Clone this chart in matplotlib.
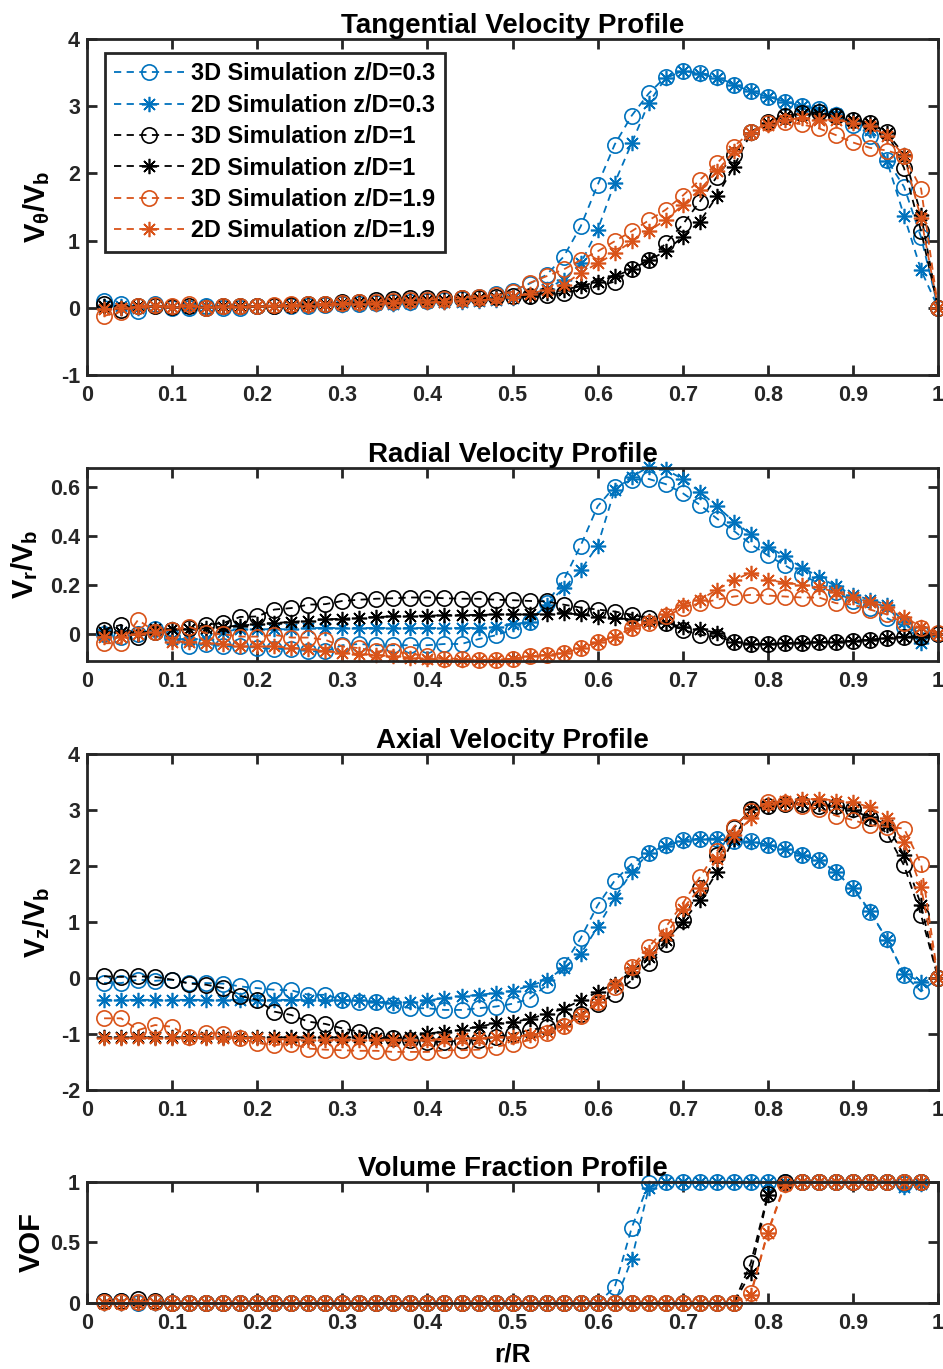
import numpy as np
import matplotlib.pyplot as plt

plt.rcParams['font.family'] = ['Liberation Sans', 'DejaVu Sans']
plt.rcParams['font.weight'] = 'bold'
plt.rcParams['mathtext.fontset'] = 'custom'
plt.rcParams['mathtext.rm'] = 'Liberation Sans:bold'
plt.rcParams['mathtext.it'] = 'Liberation Sans:bold'
plt.rcParams['mathtext.bf'] = 'Liberation Sans:bold'

# radial positions r/R
r = [0.02, 0.04, 0.06, 0.08, 0.10, 0.12, 0.14, 0.16, 0.18, 0.20,
     0.22, 0.24, 0.26, 0.28, 0.30, 0.32, 0.34, 0.36, 0.38, 0.40,
     0.42, 0.44, 0.46, 0.48, 0.50, 0.52, 0.54, 0.56, 0.58, 0.60,
     0.62, 0.64, 0.66, 0.68, 0.70, 0.72, 0.74, 0.76, 0.78, 0.80,
     0.82, 0.84, 0.86, 0.88, 0.90, 0.92, 0.94, 0.96, 0.98, 1.00]
r_vof = r[:-1]

labels = ["3D Simulation z/D=0.3", "2D Simulation z/D=0.3",
          "3D Simulation z/D=1", "2D Simulation z/D=1",
          "3D Simulation z/D=1.9", "2D Simulation z/D=1.9"]

# --- tangential velocity V_theta/V_b ---
tan_3d_03 = [0.10, 0.06, -0.05, 0.06, 0.00, -0.01, 0.02, 0.00, 0.00, 0.02, 0.02, 0.03, 0.03, 0.04, 0.05, 0.06, 0.07, 0.08, 0.09, 0.10, 0.11, 0.13, 0.16, 0.20,
             0.25, 0.36, 0.49, 0.76, 1.21, 1.83, 2.43, 2.86, 3.19, 3.44, 3.52, 3.50, 3.44, 3.32, 3.22, 3.14, 3.07, 3.00, 2.96, 2.87, 2.72, 2.55, 2.20, 1.80, 1.05, 0.00]
tan_2d_03 = [0.02, 0.03, 0.00, 0.03, 0.01, 0.00, 0.02, 0.01, 0.01, 0.02, 0.02, 0.02, 0.03, 0.04, 0.04, 0.05, 0.06, 0.06, 0.07, 0.08, 0.08, 0.09, 0.10, 0.12,
             0.14, 0.18, 0.28, 0.42, 0.66, 1.16, 1.86, 2.45, 3.05, 3.42, 3.52, 3.48, 3.42, 3.32, 3.22, 3.14, 3.07, 3.00, 2.95, 2.88, 2.80, 2.65, 2.18, 1.37, 0.56, 0.00]
tan_3d_1 = [0.05, -0.04, 0.02, 0.03, 0.01, 0.02, 0.00, 0.02, 0.03, 0.02, 0.03, 0.04, 0.05, 0.06, 0.08, 0.09, 0.11, 0.13, 0.14, 0.15, 0.15, 0.15, 0.15, 0.16,
            0.17, 0.18, 0.19, 0.22, 0.27, 0.32, 0.39, 0.57, 0.71, 0.96, 1.24, 1.58, 1.95, 2.28, 2.62, 2.77, 2.86, 2.90, 2.91, 2.86, 2.80, 2.75, 2.62, 2.08, 1.14, 0.00]
tan_2d_1 = [0.03, 0.00, 0.02, 0.02, 0.01, 0.02, 0.01, 0.02, 0.02, 0.02, 0.03, 0.04, 0.05, 0.06, 0.07, 0.08, 0.09, 0.10, 0.11, 0.12, 0.12, 0.13, 0.14, 0.15,
            0.16, 0.18, 0.22, 0.27, 0.32, 0.39, 0.47, 0.57, 0.71, 0.84, 1.06, 1.28, 1.66, 2.10, 2.60, 2.75, 2.85, 2.88, 2.88, 2.85, 2.80, 2.75, 2.60, 2.28, 1.38, 0.00]
tan_3d_19 = [-0.12, -0.06, 0.03, 0.04, 0.02, 0.05, 0.00, 0.03, 0.02, 0.02, 0.04, 0.05, 0.05, 0.06, 0.07, 0.08, 0.09, 0.10, 0.11, 0.12, 0.13, 0.14, 0.16, 0.19,
             0.24, 0.37, 0.47, 0.57, 0.71, 0.84, 0.99, 1.14, 1.30, 1.46, 1.67, 1.90, 2.15, 2.40, 2.62, 2.75, 2.77, 2.73, 2.67, 2.57, 2.46, 2.38, 2.34, 2.26, 1.77, 0.00]
tan_2d_19 = [-0.02, -0.01, 0.01, 0.02, 0.01, 0.02, 0.01, 0.01, 0.01, 0.02, 0.02, 0.03, 0.03, 0.04, 0.05, 0.05, 0.06, 0.07, 0.08, 0.08, 0.09, 0.10, 0.11, 0.13,
             0.16, 0.21, 0.27, 0.34, 0.52, 0.66, 0.81, 0.99, 1.14, 1.31, 1.53, 1.76, 2.03, 2.33, 2.60, 2.72, 2.80, 2.82, 2.80, 2.80, 2.75, 2.70, 2.56, 2.26, 1.33, 0.00]

# --- radial velocity V_r/V_b ---
rad_3d_03 = [0.00, -0.01, 0.00, 0.02, -0.01, -0.05, -0.04, -0.05, -0.05, -0.055, -0.06, -0.06, -0.07, -0.07, -0.045, -0.04, -0.045, -0.045, -0.045, -0.045, -0.04, -0.04, -0.02, -0.005,
             0.018, 0.05, 0.126, 0.22, 0.36, 0.52, 0.60, 0.627, 0.631, 0.61, 0.573, 0.526, 0.47, 0.42, 0.366, 0.32, 0.28, 0.24, 0.207, 0.173, 0.133, 0.106, 0.065, 0.03, 0.004, 0.00]
rad_2d_03 = [0.00, 0.01, 0.00, 0.01, -0.02, -0.02, -0.02, 0.01, 0.02, 0.02, 0.02, 0.02, 0.025, 0.025, 0.025, 0.025, 0.025, 0.025, 0.025, 0.025, 0.025, 0.025, 0.025, 0.03,
             0.04, 0.05, 0.12, 0.187, 0.26, 0.36, 0.587, 0.64, 0.68, 0.67, 0.63, 0.58, 0.52, 0.458, 0.406, 0.356, 0.316, 0.27, 0.234, 0.194, 0.16, 0.14, 0.12, 0.05, -0.037, 0.00]
rad_3d_1 = [0.018, 0.038, -0.01, 0.01, 0.018, 0.024, 0.038, 0.045, 0.07, 0.072, 0.10, 0.106, 0.12, 0.122, 0.135, 0.14, 0.144, 0.146, 0.149, 0.149, 0.146, 0.144, 0.144, 0.14,
            0.138, 0.135, 0.133, 0.12, 0.108, 0.10, 0.092, 0.079, 0.065, 0.045, 0.018, -0.003, -0.01, -0.03, -0.04, -0.04, -0.037, -0.034, -0.033, -0.03, -0.027, -0.023, -0.016, -0.01, -0.01, 0.00]
rad_2d_1 = [0.01, 0.01, 0.00, 0.02, 0.02, 0.02, 0.025, 0.03, 0.035, 0.04, 0.045, 0.05, 0.055, 0.06, 0.063, 0.066, 0.07, 0.072, 0.075, 0.075, 0.077, 0.078, 0.078, 0.08,
            0.08, 0.08, 0.083, 0.085, 0.08, 0.07, 0.065, 0.06, 0.055, 0.045, 0.03, 0.02, 0.005, -0.03, -0.04, -0.04, -0.037, -0.034, -0.033, -0.03, -0.027, -0.023, -0.016, -0.01, -0.01, 0.00]
rad_3d_19 = [-0.037, -0.037, 0.058, 0.01, 0.018, 0.03, 0.004, 0.00, -0.01, -0.01, -0.003, -0.014, -0.014, -0.023, -0.05, -0.057, -0.07, -0.07, -0.08, -0.09, -0.10, -0.10, -0.104, -0.104,
             -0.10, -0.09, -0.084, -0.077, -0.057, -0.033, -0.01, 0.024, 0.045, 0.072, 0.106, 0.126, 0.14, 0.153, 0.16, 0.157, 0.153, 0.149, 0.149, 0.126, 0.12, 0.10, 0.08, 0.045, 0.027, 0.004]
rad_2d_19 = [-0.01, -0.01, 0.00, 0.01, -0.03, -0.03, -0.035, -0.04, -0.05, -0.05, -0.05, -0.055, -0.06, -0.07, -0.075, -0.08, -0.085, -0.09, -0.095, -0.10, -0.104, -0.104, -0.104, -0.104,
             -0.10, -0.09, -0.084, -0.077, -0.057, -0.033, -0.01, 0.024, 0.05, 0.08, 0.12, 0.14, 0.18, 0.22, 0.25, 0.22, 0.21, 0.20, 0.19, 0.17, 0.15, 0.13, 0.11, 0.07, 0.03, 0.00]

# --- axial velocity V_z/V_b ---
ax_3d_03 = [-0.09, -0.09, -0.03, -0.05, -0.03, -0.09, -0.09, -0.10, -0.15, -0.18, -0.21, -0.22, -0.30, -0.30, -0.39, -0.42, -0.42, -0.48, -0.54, -0.54, -0.57, -0.57, -0.54, -0.51,
            -0.46, -0.37, -0.13, 0.23, 0.71, 1.30, 1.74, 2.04, 2.24, 2.37, 2.46, 2.49, 2.49, 2.44, 2.44, 2.38, 2.30, 2.20, 2.10, 1.89, 1.60, 1.18, 0.69, 0.06, -0.24, 0.00]
ax_2d_03 = [-0.39, -0.39, -0.39, -0.39, -0.39, -0.39, -0.39, -0.39, -0.39, -0.39, -0.39, -0.39, -0.39, -0.40, -0.40, -0.40, -0.42, -0.44, -0.42, -0.40, -0.36, -0.33, -0.30, -0.27,
            -0.23, -0.14, -0.04, 0.18, 0.43, 0.91, 1.43, 1.89, 2.24, 2.36, 2.45, 2.48, 2.48, 2.44, 2.43, 2.38, 2.30, 2.20, 2.10, 1.90, 1.60, 1.20, 0.68, 0.08, -0.07, 0.00]
ax_3d_1 = [0.03, 0.02, 0.03, 0.02, -0.03, -0.10, -0.12, -0.18, -0.32, -0.39, -0.60, -0.66, -0.78, -0.82, -0.90, -0.96, -1.02, -1.08, -1.11, -1.14, -1.14, -1.12, -1.11, -1.05,
           -1.00, -0.93, -0.88, -0.73, -0.64, -0.46, -0.28, -0.04, 0.26, 0.61, 1.03, 1.60, 2.19, 2.68, 3.01, 3.08, 3.11, 3.11, 3.08, 3.08, 3.01, 2.85, 2.58, 2.01, 1.12, 0.00]
ax_2d_1 = [-1.06, -1.06, -1.06, -1.06, -1.06, -1.06, -1.06, -1.06, -1.06, -1.06, -1.06, -1.06, -1.06, -1.06, -1.06, -1.06, -1.07, -1.08, -1.05, -0.99, -0.96, -0.92, -0.87, -0.81,
           -0.79, -0.73, -0.64, -0.55, -0.40, -0.25, -0.10, 0.11, 0.37, 0.67, 1.00, 1.39, 1.89, 2.49, 3.02, 3.08, 3.12, 3.12, 3.10, 3.07, 3.00, 2.88, 2.73, 2.19, 1.30, 0.00]
ax_3d_19 = [-0.72, -0.72, -0.93, -0.84, -0.87, -1.05, -0.98, -1.00, -1.08, -1.16, -1.20, -1.17, -1.26, -1.28, -1.29, -1.30, -1.30, -1.32, -1.32, -1.32, -1.29, -1.29, -1.28, -1.23,
            -1.17, -1.11, -0.99, -0.85, -0.67, -0.43, -0.16, 0.20, 0.55, 0.91, 1.33, 1.80, 2.26, 2.70, 2.99, 3.14, 3.13, 3.08, 3.02, 2.90, 2.82, 2.73, 2.70, 2.67, 2.04, 0.00]
ax_2d_19 = [-1.07, -1.07, -1.07, -1.07, -1.07, -1.07, -1.07, -1.07, -1.07, -1.07, -1.09, -1.10, -1.10, -1.10, -1.10, -1.10, -1.10, -1.10, -1.10, -1.10, -1.09, -1.08, -1.07, -1.06,
            -1.05, -1.02, -0.96, -0.85, -0.67, -0.43, -0.13, 0.17, 0.46, 0.76, 1.24, 1.60, 2.13, 2.55, 2.85, 3.11, 3.17, 3.19, 3.20, 3.17, 3.14, 3.05, 2.85, 2.43, 1.63, 0.00]

# --- volume fraction (0.02 .. 0.98) ---
vof_3d_03 = [0.02, 0.02, 0.00, 0.01, 0.00, 0.00, 0.00, 0.00, 0.00, 0.00, 0.00, 0.00, 0.00, 0.00, 0.00, 0.00, 0.00, 0.00, 0.00, 0.00, 0.00, 0.00, 0.00, 0.00, 0.00,
             0.00, 0.00, 0.00, 0.00, 0.00, 0.13, 0.62, 0.99, 1.00, 1.00, 1.00, 1.00, 1.00, 1.00, 1.00, 1.00, 1.00, 1.00, 1.00, 1.00, 1.00, 1.00, 0.98, 1.00]
vof_2d_03 = [0.00, 0.00, 0.00, 0.00, 0.00, 0.00, 0.00, 0.00, 0.00, 0.00, 0.00, 0.00, 0.00, 0.00, 0.00, 0.00, 0.00, 0.00, 0.00, 0.00, 0.00, 0.00, 0.00, 0.00, 0.00,
             0.00, 0.00, 0.00, 0.00, 0.00, 0.00, 0.36, 0.95, 1.00, 1.00, 1.00, 1.00, 1.00, 1.00, 1.00, 1.00, 1.00, 1.00, 1.00, 1.00, 1.00, 1.00, 0.96, 0.98]
vof_3d_1 = [0.02, 0.02, 0.03, 0.02, 0.00, 0.00, 0.00, 0.00, 0.00, 0.00, 0.00, 0.00, 0.00, 0.00, 0.00, 0.00, 0.00, 0.00, 0.00, 0.00, 0.00, 0.00, 0.00, 0.00, 0.00,
            0.00, 0.00, 0.00, 0.00, 0.00, 0.00, 0.00, 0.00, 0.00, 0.00, 0.00, 0.00, 0.00, 0.33, 0.90, 1.00, 1.00, 1.00, 1.00, 1.00, 1.00, 1.00, 1.00, 1.00]
vof_2d_1 = [0.00, 0.00, 0.00, 0.00, 0.00, 0.00, 0.00, 0.00, 0.00, 0.00, 0.00, 0.00, 0.00, 0.00, 0.00, 0.00, 0.00, 0.00, 0.00, 0.00, 0.00, 0.00, 0.00, 0.00, 0.00,
            0.00, 0.00, 0.00, 0.00, 0.00, 0.00, 0.00, 0.00, 0.00, 0.00, 0.00, 0.00, 0.00, 0.25, 0.89, 0.98, 1.00, 1.00, 1.00, 1.00, 1.00, 1.00, 1.00, 1.00]
vof_3d_19 = [0.01, 0.01, 0.01, 0.01, 0.00, 0.00, 0.00, 0.00, 0.00, 0.00, 0.00, 0.00, 0.00, 0.00, 0.00, 0.00, 0.00, 0.00, 0.00, 0.00, 0.00, 0.00, 0.00, 0.00, 0.00,
             0.00, 0.00, 0.00, 0.00, 0.00, 0.00, 0.00, 0.00, 0.00, 0.00, 0.00, 0.00, 0.00, 0.08, 0.59, 0.98, 1.00, 1.00, 1.00, 1.00, 1.00, 1.00, 1.00, 1.00]
vof_2d_19 = [0.00, 0.00, 0.00, 0.00, 0.00, 0.00, 0.00, 0.00, 0.00, 0.00, 0.00, 0.00, 0.00, 0.00, 0.00, 0.00, 0.00, 0.00, 0.00, 0.00, 0.00, 0.00, 0.00, 0.00, 0.00,
             0.00, 0.00, 0.00, 0.00, 0.00, 0.00, 0.00, 0.00, 0.00, 0.00, 0.00, 0.00, 0.00, 0.07, 0.58, 0.97, 1.00, 1.00, 1.00, 1.00, 1.00, 1.00, 1.00, 1.00]

BLUE = "#0072BD"
ORANGE = "#D95319"
BLACK = "#000000"
AXC = "#262626"
colors = [BLUE, BLUE, BLACK, BLACK, ORANGE, ORANGE]
markers = ["o", (8, 2, 0), "o", (8, 2, 0), "o", (8, 2, 0)]
xticklabels = ["0", "0.1", "0.2", "0.3", "0.4", "0.5", "0.6", "0.7", "0.8", "0.9", "1"]

fig = plt.figure(figsize=(9.43, 13.69), dpi=100)
L, W = 0.0923, 0.9025
ax1 = fig.add_axes([L, 0.7261, W, 0.2454])
ax2 = fig.add_axes([L, 0.5172, W, 0.1412])
ax3 = fig.add_axes([L, 0.2038, W, 0.2454])
ax4 = fig.add_axes([L, 0.0482, W, 0.0886])


def draw(ax, x, series):
    for y, c, m, lab in zip(series, colors, markers, labels):
        ax.plot(x, y, color=c, linestyle=(0, (4, 3)), linewidth=1.3, marker=m,
                markersize=11, markerfacecolor="none", markeredgecolor=c,
                markeredgewidth=1.2, label=lab, clip_on=False)


def style(ax, title, ylabel, ylim, yticks, yticklabels, ylab_x):
    ax.set_xlim(0, 1)
    ax.set_ylim(*ylim)
    ax.set_xticks(np.arange(0, 1.01, 0.1))
    ax.set_xticklabels(xticklabels)
    ax.set_yticks(yticks)
    ax.set_yticklabels(yticklabels)
    ax.set_title(title, fontsize=20, fontweight="bold", pad=4)
    ax.set_ylabel(ylabel, fontsize=21, fontweight="bold")
    ax.yaxis.set_label_coords(ylab_x, 0.5)
    for s in ax.spines.values():
        s.set_color(AXC)
        s.set_linewidth(2)
    ax.tick_params(direction="in", length=7, width=2, colors=AXC, labelsize=15.5,
                   top=True, right=True)
    ax.tick_params(axis="x", pad=7)
    ax.tick_params(axis="y", pad=5)
    for t in ax.get_xticklabels() + ax.get_yticklabels():
        t.set_fontweight("bold")


draw(ax1, r, [tan_3d_03, tan_2d_03, tan_3d_1, tan_2d_1, tan_3d_19, tan_2d_19])
style(ax1, "Tangential Velocity Profile", r"$V_\theta/V_b$", (-1, 4),
      [-1, 0, 1, 2, 3, 4], ["-1", "0", "1", "2", "3", "4"], -0.041)
leg = ax1.legend(loc="upper left", bbox_to_anchor=(0.021, 0.958), borderaxespad=0,
                 frameon=True, fancybox=False, framealpha=1,
                 edgecolor=AXC, handlelength=3.0, handletextpad=0.3,
                 labelspacing=0.36, borderpad=0.4, prop={"weight": "bold", "size": 16.8})
leg.get_frame().set_linewidth(2)

draw(ax2, r, [rad_3d_03, rad_2d_03, rad_3d_1, rad_2d_1, rad_3d_19, rad_2d_19])
style(ax2, "Radial Velocity Profile", r"$V_r/V_b$", (-0.109, 0.677),
      [0, 0.2, 0.4, 0.6], ["0", "0.2", "0.4", "0.6"], -0.055)

draw(ax3, r, [ax_3d_03, ax_2d_03, ax_3d_1, ax_2d_1, ax_3d_19, ax_2d_19])
style(ax3, "Axial Velocity Profile", r"$V_z/V_b$", (-2, 4),
      [-2, -1, 0, 1, 2, 3, 4], ["-2", "-1", "0", "1", "2", "3", "4"], -0.041)

draw(ax4, r_vof, [vof_3d_03, vof_2d_03, vof_3d_1, vof_2d_1, vof_3d_19, vof_2d_19])
style(ax4, "Volume Fraction Profile", "VOF", (0, 1),
      [0, 0.5, 1], ["0", "0.5", "1"], -0.048)
ax4.set_xlabel("r/R", fontsize=19, fontweight="bold", labelpad=6)

fig.savefig("out.png", dpi=100, facecolor="white")
